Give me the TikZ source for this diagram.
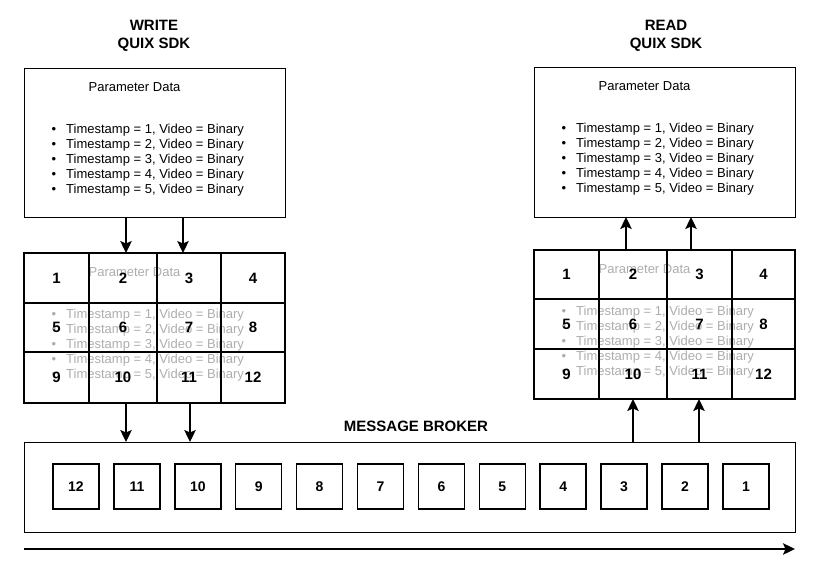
\documentclass[tikz,border=0pt]{standalone}
\usepackage{fontspec}
\setmainfont{Liberation Sans}
\usetikzlibrary{arrows.meta,calc}
\tikzset{
 box/.style={draw, line width=1pt, inner sep=0, outer sep=0, anchor=north west},
 cell/.style={draw, line width=1.3pt, anchor=north west, inner sep=0, outer sep=0, font=\fontsize{15}{15}\selectfont\bfseries},
 msg/.style={draw, line width=1.5pt, minimum width=46pt, minimum height=45pt, inner sep=0, font=\fontsize{14}{14}\selectfont\bfseries},
 title/.style={anchor=base, inner sep=0, font=\fontsize{15}{15}\selectfont\bfseries},
 ptitle/.style={anchor=base, inner sep=0, font=\fontsize{13}{15}\selectfont},
 bul/.style={anchor=base west, inner sep=0, font=\fontsize{13}{15}\selectfont},
 dot/.style={anchor=base, inner sep=0, font=\fontsize{13}{15}\selectfont},
 faded/.style={text=black!32},
 arr/.style={line width=1.6pt, -{Stealth[length=12pt,width=11.5pt,inset=2.5pt]}},
}
\begin{document}
\begin{tikzpicture}[x=1pt,y=-1pt]
\useasboundingbox (0,0) rectangle (827,582);
% titles
\node[title] (wt1) at (154,30) {WRITE};
\node[title] (wt2) at (154,48) {QUIX SDK};
\node[title] (rt1) at (666,30) {READ};
\node[title] (rt2) at (666,48) {QUIX SDK};
% top boxes
\node[box, minimum width=261pt, minimum height=149pt] (wbox) at (24,68) {};
\node[box, minimum width=261pt, minimum height=150pt] (rbox) at (534,67) {};
% top texts
\node[ptitle] (wp) at (134.5,91) {Parameter Data};
\node[ptitle] (rp) at (644.5,90) {Parameter Data};
\foreach \i in {1,...,5}{
  \node[dot] (wd\i) at (54,{133+15*(\i-1)}) {•};
  \node[bul] (wl\i) at (66,{133+15*(\i-1)}) {Timestamp = \i, Video = Binary};
  \node[dot] (rd\i) at (564,{132+15*(\i-1)}) {•};
  \node[bul] (rl\i) at (576,{132+15*(\i-1)}) {Timestamp = \i, Video = Binary};
}
% faded overlay texts
\node[ptitle, faded] (wpf) at (134.5,276) {Parameter Data};
\node[ptitle, faded] (rpf) at (644.5,273) {Parameter Data};
\foreach \i in {1,...,5}{
  \node[dot, faded] (wdf\i) at (54,{318+15*(\i-1)}) {•};
  \node[bul, faded] (wlf\i) at (66,{318+15*(\i-1)}) {Timestamp = \i, Video = Binary};
  \node[dot, faded] (rdf\i) at (564,{315+15*(\i-1)}) {•};
  \node[bul, faded] (rlf\i) at (576,{315+15*(\i-1)}) {Timestamp = \i, Video = Binary};
}
% left grid
\node[cell, minimum width=65pt, minimum height=50pt] (w1) at (24,253) {1};
\node[cell, minimum width=68pt, minimum height=50pt] (w2) at (89,253) {2};
\node[cell, minimum width=64pt, minimum height=50pt] (w3) at (157,253) {3};
\node[cell, minimum width=64pt, minimum height=50pt] (w4) at (221,253) {4};
\node[cell, minimum width=65pt, minimum height=49pt] (w5) at (24,303) {5};
\node[cell, minimum width=68pt, minimum height=49pt] (w6) at (89,303) {6};
\node[cell, minimum width=64pt, minimum height=49pt] (w7) at (157,303) {7};
\node[cell, minimum width=64pt, minimum height=49pt] (w8) at (221,303) {8};
\node[cell, minimum width=65pt, minimum height=51pt] (w9) at (24,352) {9};
\node[cell, minimum width=68pt, minimum height=51pt] (w10) at (89,352) {10};
\node[cell, minimum width=64pt, minimum height=51pt] (w11) at (157,352) {11};
\node[cell, minimum width=64pt, minimum height=51pt] (w12) at (221,352) {12};
% right grid
\node[cell, minimum width=65pt, minimum height=49pt] (r1) at (534,250) {1};
\node[cell, minimum width=68pt, minimum height=49pt] (r2) at (599,250) {2};
\node[cell, minimum width=65pt, minimum height=49pt] (r3) at (667,250) {3};
\node[cell, minimum width=63pt, minimum height=49pt] (r4) at (732,250) {4};
\node[cell, minimum width=65pt, minimum height=50pt] (r5) at (534,299) {5};
\node[cell, minimum width=68pt, minimum height=50pt] (r6) at (599,299) {6};
\node[cell, minimum width=65pt, minimum height=50pt] (r7) at (667,299) {7};
\node[cell, minimum width=63pt, minimum height=50pt] (r8) at (732,299) {8};
\node[cell, minimum width=65pt, minimum height=50pt] (r9) at (534,349) {9};
\node[cell, minimum width=68pt, minimum height=50pt] (r10) at (599,349) {10};
\node[cell, minimum width=65pt, minimum height=50pt] (r11) at (667,349) {11};
\node[cell, minimum width=63pt, minimum height=50pt] (r12) at (732,349) {12};
% broker
\node[box, minimum width=771pt, minimum height=90pt] (broker) at (24,442) {};
\node[title] (bl) at (416,431) {MESSAGE BROKER};
\foreach \k in {0,...,11}{
  \pgfmathtruncatemacro{\n}{12-\k}
  \node[msg] (m\n) at ({76+60.9*\k},486.5) {\n};
}
% arrows write side
\coordinate (a1) at ([xshift=102pt]wbox.south west);
\coordinate (a2) at ([xshift=159pt]wbox.south west);
\draw[arr] (a1) -- (a1 |- w2.north);
\draw[arr] (a2) -- (a2 |- w3.north);
\coordinate (b1) at ([xshift=102pt]w9.south west);
\coordinate (b2) at ([xshift=166pt]w9.south west);
\draw[arr] (b1) -- (b1 |- broker.north);
\draw[arr] (b2) -- (b2 |- broker.north);
% arrows read side
\coordinate (c1) at ([xshift=92pt]r1.north west);
\coordinate (c2) at ([xshift=157pt]r1.north west);
\draw[arr] (c1) -- (c1 |- rbox.south);
\draw[arr] (c2) -- (c2 |- rbox.south);
\coordinate (e1) at ([xshift=99pt]r9.south west);
\coordinate (e2) at ([xshift=165pt]r9.south west);
\coordinate (d1) at (e1 |- broker.north);
\coordinate (d2) at (e2 |- broker.north);
\draw[arr] (d1) -- (e1);
\draw[arr] (d2) -- (e2);
% time arrow
\coordinate (t0) at ([yshift=-17pt]broker.south west);
\coordinate (t1) at ([yshift=-17pt]broker.south east);
\draw[arr] (t0) -- (t1);
\end{tikzpicture}
\end{document}
